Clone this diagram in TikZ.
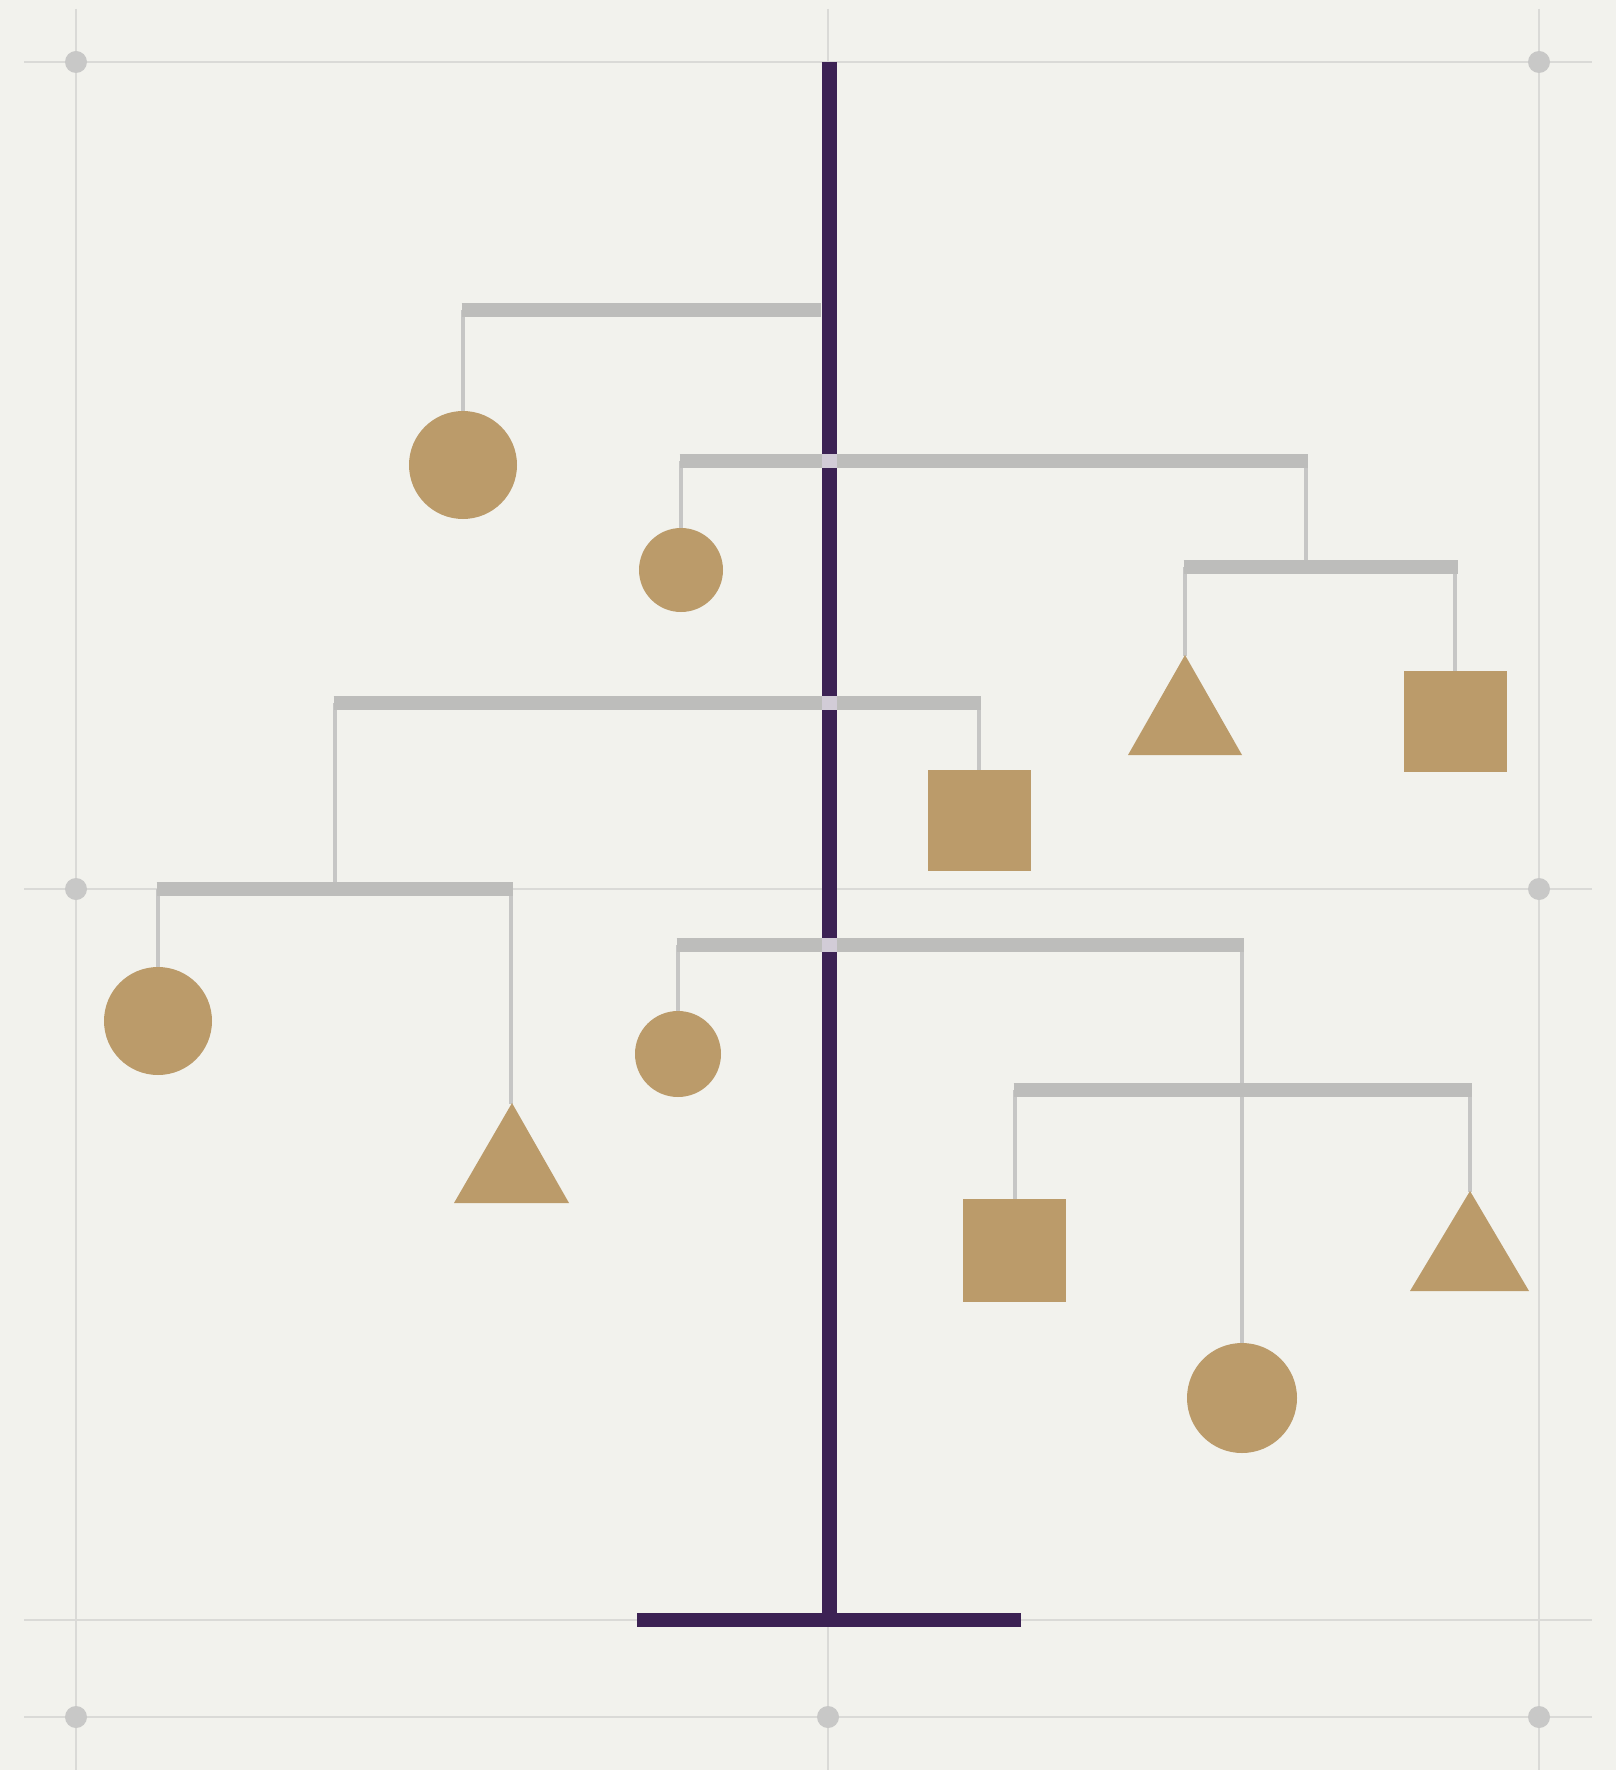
\documentclass[tikz,border=0pt]{standalone}
\usepackage{xcolor}
\usepackage{tikz}
\usetikzlibrary{calc}
\definecolor{paper}{RGB}{242,242,237}
\definecolor{gridgray}{RGB}{218,218,215}
\definecolor{dotgray}{RGB}{200,200,199}
\definecolor{mastpurple}{RGB}{60,34,84}
\definecolor{armgray}{RGB}{189,189,187}
\definecolor{wiregray}{RGB}{198,198,197}
\definecolor{brass}{RGB}{187,155,106}
\definecolor{crossgray}{RGB}{210,204,215}

\tikzset{
  gridline/.style={gridgray, line width=0.6pt},
  arm/.style={armgray, line width=4pt},
  wire/.style={wiregray, line width=0.9pt},
  weight/.style={fill=brass, draw=none},
}

\begin{document}
\begin{tikzpicture}[x=0.01cm, y=-0.01cm]
  \fill[paper] (0,0) rectangle (1616,1770);
  \useasboundingbox (0,0) rectangle (1616,1770);

  % Guide grid
  \foreach \x in {76, 828, 1539} {
    \draw[gridline] (\x,9) -- (\x,1770);
  }
  \foreach \y in {62, 889, 1620, 1717} {
    \draw[gridline] (24,\y) -- (1592,\y);
  }
  \foreach \x/\y in {76/62, 1539/62, 76/889, 1539/889, 76/1717, 828/1717, 1539/1717} {
    \fill[dotgray] (\x,\y) circle (11);
  }

  % Mast and foot
  \draw[mastpurple, line width=4.3pt] (829.5,62) -- (829.5,1620);
  \draw[mastpurple, line width=3.8pt] (637,1620) -- (1021,1620);

  % Wires: x / top / bottom
  \foreach \x/\ya/\yb in {463/310/412, 681/461/529, 1306/461/567, 1185/567/656,
                          1455/567/672, 979/703/771, 335/703/889, 158/889/968,
                          511/889/1104, 678/945/1012, 1242/945/1344,
                          1015/1090/1200, 1470/1090/1192} {
    \draw[wire] (\x,\ya) -- (\x,\yb);
  }

  % Arms: left / right / height
  \foreach \xa/\xb/\y in {461.5/821/310, 679.5/1307.5/461, 1183.5/1457.5/567,
                          333.5/980.5/703, 156.5/512.5/889, 676.5/1243.5/945,
                          1013.5/1471.5/1090} {
    \draw[arm] (\xa,\y) -- (\xb,\y);
  }

  % Where arms pass the mast
  \foreach \y in {461, 703, 945} {
    \fill[crossgray] (822,\y-7) rectangle (837,\y+7);
  }

  % Circles
  \fill[weight] (463,465) circle (54);
  \fill[weight] (681,570) circle (42);
  \fill[weight] (158,1021) circle (54);
  \fill[weight] (678,1054) circle (43);
  \fill[weight] (1242,1398) circle (55);

  % Squares
  \fill[weight] (1404,671) rectangle (1507,772);
  \fill[weight] (928,770) rectangle (1031,871);
  \fill[weight] (963,1199) rectangle (1066,1302);

  % Triangles
  \fill[weight] (1185,655) -- (1242,755) -- (1128,755) -- cycle;
  \fill[weight] (512,1103) -- (569,1203) -- (454,1203) -- cycle;
  \fill[weight] (1470,1191) -- (1529,1291) -- (1410,1291) -- cycle;
\end{tikzpicture}
\end{document}
